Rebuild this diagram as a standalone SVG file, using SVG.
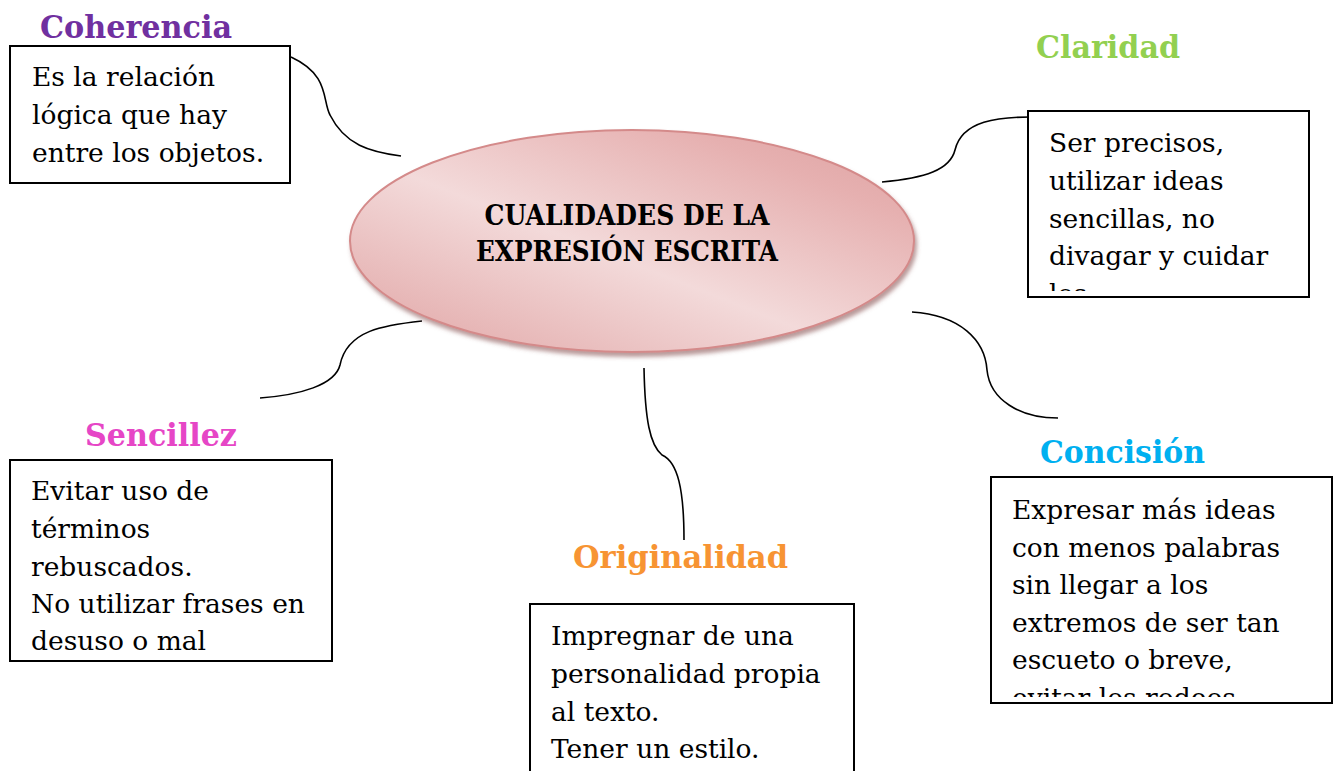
<svg xmlns="http://www.w3.org/2000/svg" width="1334" height="771" viewBox="0 0 1334 771">
<style>
.box{fill:#fff;stroke:#000;stroke-width:2}
.txt{font-family:"DejaVu Serif","Liberation Serif",serif;font-size:26.5px;fill:#000}
.ttl{font-family:"DejaVu Serif","Liberation Serif",serif;font-size:32px;font-weight:bold}
.con{fill:none;stroke:#000;stroke-width:1.6}
.ctr{font-family:"DejaVu Serif","Liberation Serif",serif;font-size:28px;font-weight:bold;fill:#000}
</style>
<defs>
<linearGradient id="g" x1="0" y1="1" x2="1" y2="0">
<stop offset="0" stop-color="#E0A3A3"/>
<stop offset="0.45" stop-color="#F3DADA"/>
<stop offset="0.8" stop-color="#E6B0B0"/>
<stop offset="1" stop-color="#DCA0A0"/>
</linearGradient>
<filter id="sh" x="-10%" y="-10%" width="120%" height="130%">
<feGaussianBlur in="SourceAlpha" stdDeviation="2"/>
<feOffset dx="2" dy="4" result="b"/>
<feFlood flood-color="#8a5555" flood-opacity="0.6"/>
<feComposite in2="b" operator="in"/>
<feMerge><feMergeNode/><feMergeNode in="SourceGraphic"/></feMerge>
</filter>
<clipPath id="c2"><rect x="1029" y="112" width="279" height="179"/></clipPath>
<clipPath id="c5"><rect x="992" y="478" width="339" height="219"/></clipPath>
</defs>
<rect width="1334" height="771" fill="#fff"/>
<g id="connectors">
<path class="con" d="M291,57 C330,75 322,100 330,115 C345,145 370,152 401,156"/>
<path class="con" d="M882,182 C925,178 950,170 955,150 C962,120 1000,117 1030,117"/>
<path class="con" d="M260,398 C300,395 335,385 340,365 C347,330 385,325 422,321"/>
<path class="con" d="M644,368 C645,420 650,445 662,455 C678,462 684,490 684,540"/>
<path class="con" d="M912,312 C960,315 985,340 987,370 C990,400 1020,418 1058,418"/>
</g>
<g id="center">
<ellipse cx="632" cy="241" rx="282" ry="111" fill="url(#g)" stroke="#D48A8A" stroke-width="2" filter="url(#sh)"/>
<text class="ctr" x="627" y="225" text-anchor="middle" textLength="285" lengthAdjust="spacingAndGlyphs">CUALIDADES DE LA</text>
<text class="ctr" x="627" y="261" text-anchor="middle" textLength="302" lengthAdjust="spacingAndGlyphs">EXPRESIÓN ESCRITA</text>
</g>
<g id="coherencia">
<text class="ttl" x="40" y="38" fill="#7030A0" textLength="192" lengthAdjust="spacingAndGlyphs">Coherencia</text>
<rect class="box" x="10" y="46" width="280" height="137"/>
<text class="txt" x="32" y="86">Es la relación</text>
<text class="txt" x="32" y="124">lógica que hay</text>
<text class="txt" x="32" y="162">entre los objetos.</text>
</g>
<g id="claridad">
<text class="ttl" x="1036" y="58" fill="#92D050" textLength="144" lengthAdjust="spacingAndGlyphs">Claridad</text>
<rect class="box" x="1028" y="111" width="281" height="186"/>
<g clip-path="url(#c2)">
<text class="txt" x="1049" y="152">Ser precisos,</text>
<text class="txt" x="1049" y="190">utilizar ideas</text>
<text class="txt" x="1049" y="228">sencillas, no</text>
<text class="txt" x="1049" y="265">divagar y cuidar</text>
<text class="txt" x="1049" y="303">los</text>
</g>
</g>
<g id="sencillez">
<text class="ttl" x="85" y="446" fill="#E646C6" textLength="152" lengthAdjust="spacingAndGlyphs">Sencillez</text>
<rect class="box" x="10" y="460" width="322" height="201"/>
<text class="txt" x="31" y="500">Evitar uso de</text>
<text class="txt" x="31" y="538">términos</text>
<text class="txt" x="31" y="576">rebuscados.</text>
<text class="txt" x="31" y="613">No utilizar frases en</text>
<text class="txt" x="31" y="650">desuso o mal</text>
</g>
<g id="originalidad">
<text class="ttl" x="573" y="568" fill="#F79433" textLength="215" lengthAdjust="spacingAndGlyphs">Originalidad</text>
<rect class="box" x="530" y="604" width="324" height="180"/>
<text class="txt" x="551" y="645">Impregnar de una</text>
<text class="txt" x="551" y="683">personalidad propia</text>
<text class="txt" x="551" y="721">al texto.</text>
<text class="txt" x="551" y="758">Tener un estilo.</text>
</g>
<g id="concision">
<text class="ttl" x="1040" y="463" fill="#00B0F0" textLength="165" lengthAdjust="spacingAndGlyphs">Concisión</text>
<rect class="box" x="991" y="477" width="341" height="226"/>
<g clip-path="url(#c5)">
<text class="txt" x="1012" y="519">Expresar más ideas</text>
<text class="txt" x="1012" y="557">con menos palabras</text>
<text class="txt" x="1012" y="594">sin llegar a los</text>
<text class="txt" x="1012" y="632">extremos de ser tan</text>
<text class="txt" x="1012" y="669">escueto o breve,</text>
<text class="txt" x="1012" y="707">evitar los rodeos</text>
</g>
</g>
</svg>
